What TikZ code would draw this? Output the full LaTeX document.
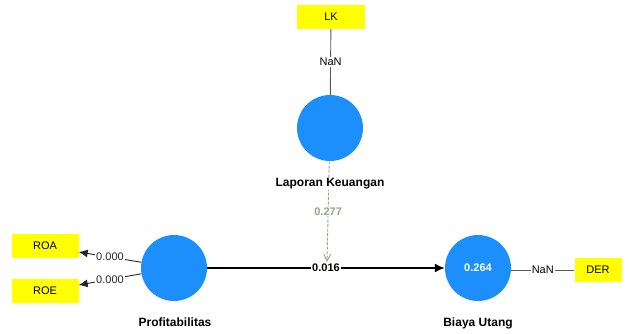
\documentclass[tikz,border=0pt]{standalone}
\usepackage{fontspec}
\setmainfont{Liberation Sans}
\usetikzlibrary{positioning,arrows.meta}
\definecolor{lvblue}{HTML}{1C8FFC}
\definecolor{indyellow}{HTML}{FFFF00}
\definecolor{modgreen}{HTML}{8FA68F}
\begin{document}
\begin{tikzpicture}[x=1pt,y=-1pt,
  lv/.style={circle,fill=lvblue,minimum size=66pt,inner sep=0pt},
  ind/.style={fill=indyellow,minimum height=24pt,inner sep=0pt,font=\fontsize{11}{12}\selectfont},
  lvname/.style={font=\fontsize{12}{13}\selectfont\bfseries},
  coef/.style={fill=white,inner sep=1pt,font=\fontsize{11}{12}\selectfont},
  outer/.style={draw=black!65,line width=0.9pt}]
\useasboundingbox (0,0) rectangle (629,333);
% latent variables
\node [lv] (lk) at (330,128) {};
\node [lv] (prof) at (174,268) {};
\node [lv] (bu) at (478,268) {\textcolor{white}{\fontsize{11}{12}\selectfont\bfseries 0.264}};
% indicators
\node [ind,minimum width=68pt] (LK) at (331,17) {LK};
\node [ind,minimum width=67pt] (ROA) at (45,246) {ROA};
\node [ind,minimum width=67pt] (ROE) at (45,291) {ROE};
\node [ind,minimum width=47pt] (DER) at (598,270) {DER};
% outer model
\draw [outer] (LK) -- node [coef] {NaN} (lk);
\draw [outer] (bu.east |- 0,270) -- node [coef] {NaN} (DER);
\draw [outer,-{Latex[length=9pt,width=8pt]},black!85] (prof.170) -- node [coef] {0.000} (ROA.east |- 0,252);
\draw [outer,-{Latex[length=9pt,width=8pt]},black!85] (prof.190) -- node [coef] {0.000} (ROE.east |- 0,285);
% inner model
\coordinate (mod) at (327,262);
\draw [modgreen,line width=0.9pt,dashed,dash pattern=on 3pt off 1.5pt,-{Straight Barb[length=7pt,width=7pt]}] (lk) -- node [coef,text=modgreen,font=\fontsize{11}{12}\selectfont\bfseries,pos=0.5] {0.277} (mod);
\draw [line width=1.6pt,-{Latex[length=10pt,width=9pt]}] (prof) -- node [coef,font=\fontsize{11}{12}\selectfont\bfseries] {0.016} (bu);
% names
\node [lvname,fill=white,inner sep=1pt] at (330,184) {Laporan Keuangan};
\node [lvname] at (175,322) {Profitabilitas};
\node [lvname] at (478,323) {Biaya Utang};
\end{tikzpicture}
\end{document}
